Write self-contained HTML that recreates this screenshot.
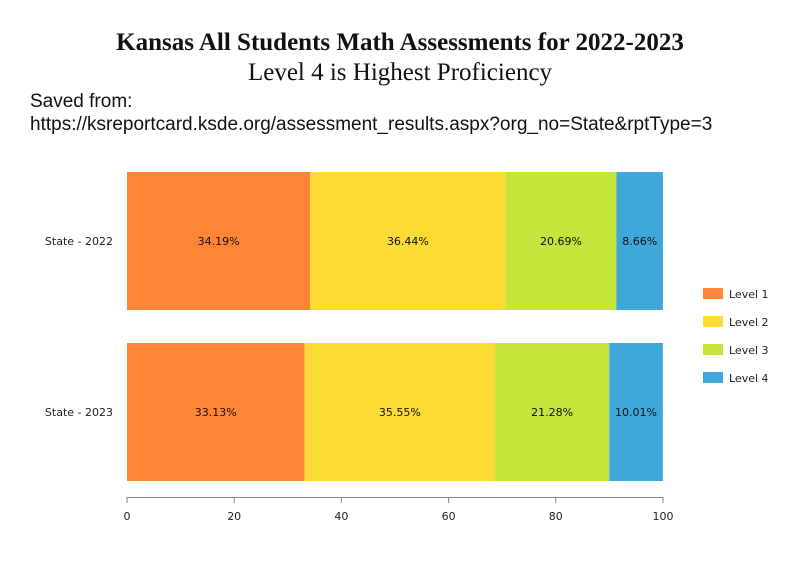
<!DOCTYPE html>
<html><head><meta charset="utf-8"><style>
body{margin:0;background:#fff;width:800px;height:570px;overflow:hidden;position:relative}
.t{position:absolute;left:0;width:800px;text-align:center;font-family:"Liberation Serif",serif;color:#111}
.s{position:absolute;left:30px;font-family:"Liberation Sans",sans-serif;font-size:19px;color:#111}
</style></head><body>
<div class="t" style="top:29px;font-size:25px;font-weight:bold">Kansas All Students Math Assessments for 2022-2023</div>
<div class="t" style="top:59px;font-size:25px">Level 4 is Highest Proficiency</div>
<div class="s" style="top:91px">Saved from:</div>
<div class="s" style="top:114px">https://ksreportcard.ksde.org/assessment_results.aspx?org_no=State&amp;rptType=3</div>
<svg id="c" width="800" height="570" style="position:absolute;left:0;top:0" font-family="DejaVu Sans, Verdana, sans-serif" font-size="11"></svg>
<script>
const categories=["State - 2022","State - 2023"];
const level1=[34.19,33.13];
const level2=[36.44,35.55];
const level3=[20.69,21.28];
const level4=[8.66,10.01];
const seriesNames=["Level 1","Level 2","Level 3","Level 4"];
const ticks=[0,20,40,60,80,100];
const colors=["#fd8535","#fcdb35","#c4e53b","#3ea8da"];
const series=[level1,level2,level3,level4];
const svg=document.getElementById('c');const NS='http://www.w3.org/2000/svg';
function mk(t,a,p){const e=document.createElementNS(NS,t);for(const k in a)e.setAttribute(k,a[k]);(p||svg).appendChild(e);return e;}
const x=v=>127+v*(663-127)/100;
const bandTop=[172,343],bh=138;
categories.forEach((c,i)=>{
 const y=bandTop[0]+i*(bandTop[1]-bandTop[0]);
 const l=mk('text',{x:113,y:y+bh/2+4,'text-anchor':'end',fill:'#222'});
 
 
 l.textContent=c;
 let acc=0;
 series.forEach((s,j)=>{
  const v=s[i];
  const r=mk('rect',{x:x(acc),y:y,width:x(acc+v)-x(acc),height:bh,fill:colors[j]});
  
  
  const t=mk('text',{x:(x(acc)+x(acc+v))/2,y:y+bh/2+4,'text-anchor':'middle',fill:'#111'});
  
  
  t.textContent=v.toFixed(2)+'%';
  acc+=v;
 });
});
mk('line',{x1:127,x2:663,y1:497.5,y2:497.5,stroke:'#888'});
ticks.forEach(v=>{
 mk('line',{x1:x(v),x2:x(v),y1:497,y2:503,stroke:'#888'});
 const t=mk('text',{x:x(v),y:520,'text-anchor':'middle',fill:'#222'});
 
 
 t.textContent=v;
});
seriesNames.forEach((n,j)=>{
 const y=288+j*28;
 const r=mk('rect',{x:703,y:y,width:20,height:11,fill:colors[j]});
 
 
 const t=mk('text',{x:729,y:y+10,fill:'#222'});
 
 
 t.textContent=n;
});
</script>
</body></html>
